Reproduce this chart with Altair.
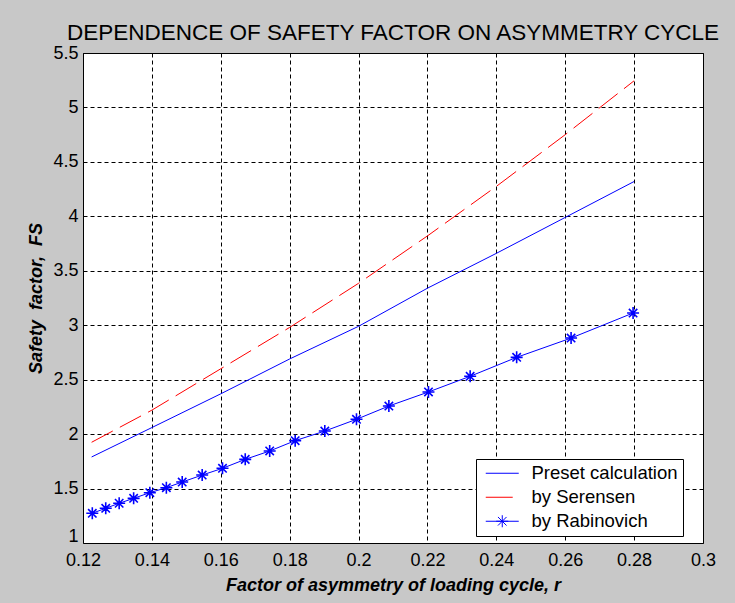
import altair as alt
import pandas as pd

# ---- data ----
series = ["Preset calculation", "by Serensen", "by Rabinovich"]

preset_r = [0.1225, 0.14, 0.16, 0.18, 0.20, 0.22, 0.24, 0.26, 0.28]
preset_fs = [1.79, 2.06, 2.37, 2.69, 2.99, 3.34, 3.66, 3.99, 4.32]

seren_r = [0.1225, 0.14, 0.16, 0.18, 0.20, 0.22, 0.24, 0.26, 0.28]
seren_fs = [1.925, 2.22, 2.60, 2.98, 3.385, 3.82, 4.275, 4.75, 5.245]

rab_r = [0.1227, 0.1266, 0.1305, 0.1347, 0.1394, 0.1442, 0.1488, 0.1546, 0.1605,
         0.1671, 0.1742, 0.1816, 0.1902, 0.1994, 0.2088, 0.2203, 0.2324, 0.2459,
         0.2617, 0.2797]
rab_fs = [1.273, 1.319, 1.365, 1.41, 1.462, 1.508, 1.56, 1.624, 1.686,
          1.768, 1.845, 1.94, 2.028, 2.136, 2.258, 2.387, 2.531, 2.705,
          2.882, 3.112]

x_ticks = [0.12, 0.14, 0.16, 0.18, 0.2, 0.22, 0.24, 0.26, 0.28, 0.3]
y_ticks = [1, 1.5, 2, 2.5, 3, 3.5, 4, 4.5, 5, 5.5]

title_text = "DEPENDENCE OF SAFETY FACTOR ON ASYMMETRY CYCLE"
x_title = "Factor of asymmetry of loading cycle, r"
y_title = "Safety\u00a0 factor,\u00a0 FS"

# ---- tables ----
preset_df = pd.DataFrame({"r": preset_r, "fs": preset_fs})
seren_df = pd.DataFrame({"r": seren_r, "fs": seren_fs})
rab_df = pd.DataFrame({"r": rab_r, "fs": rab_fs})
legend_df = pd.DataFrame({"series": series})

FONT = "Liberation Sans"
BLUE = "#0000ff"
RED = "#ff0000"

STAR = "M-1,0L1,0M0,-1L0,1M-0.7,-0.7L0.7,0.7M-0.7,0.7L0.7,-0.7"
LEG_LINE = "M-2,0L2,0"
LEG_SHORT = "M-2,0L1.27,0"
LEG_STAR = ("M-2,0L2,0M-0.73,0L0.73,0M0,-0.73L0,0.73"
            "M-0.52,-0.52L0.52,0.52M-0.52,0.52L0.52,-0.52")

color_scale = alt.Scale(domain=series, range=[BLUE, RED, BLUE])
shape_scale = alt.Scale(domain=series, range=[LEG_LINE, LEG_SHORT, LEG_STAR])

x_enc = alt.X("r:Q",
              scale=alt.Scale(domain=[0.12, 0.3], nice=False, zero=False),
              axis=alt.Axis(values=x_ticks, format="~g", title=x_title,
                            labelFlush=False, labelOverlap=False,
                            labelPadding=8, titlePadding=7))
y_enc = alt.Y("fs:Q",
              scale=alt.Scale(domain=[1, 5.5], nice=False, zero=False),
              axis=alt.Axis(values=y_ticks, format="~g", title=y_title,
                            labelFlush=False, labelOverlap=False,
                            labelOffset={"condition": {"test": "datum.value === 1",
                                                       "value": -7},
                                         "value": 0},
                            labelPadding=5, titlePadding=7))

leg = alt.Legend(title=None, orient="none", legendX=393, legendY=406,
                 fillColor="white", strokeColor="black", padding=5,
                 rowPadding=5, labelFont=FONT, labelFontSize=18.5,
                 labelColor="black", labelOffset=20, symbolOffset=12,
                 symbolSize=272, symbolStrokeWidth=1, symbolOpacity=1,
                 symbolFillColor="transparent", zindex=3)

preset_line = alt.Chart(preset_df).mark_line(
    strokeWidth=1, color=BLUE, clip=True
).encode(x=x_enc, y=y_enc)

seren_line = alt.Chart(seren_df).mark_line(
    strokeWidth=1, color=RED, strokeDash=[24, 8], clip=True
).encode(x="r:Q", y="fs:Q")

rab_line = alt.Chart(rab_df).mark_line(
    strokeWidth=1, color=BLUE, clip=True
).encode(x="r:Q", y="fs:Q")

markers = alt.Chart(rab_df).mark_point(
    shape=STAR, size=144, filled=False, color=BLUE, strokeWidth=1.6, opacity=1
).encode(x="r:Q", y="fs:Q")

legend_layer = alt.Chart(legend_df).mark_point(
    filled=False, strokeWidth=1, opacity=1
).encode(
    x="r:Q", y="fs:Q",
    color=alt.Color("series:N", scale=color_scale, legend=leg),
    shape=alt.Shape("series:N", scale=shape_scale, legend=leg),
)

chart = alt.layer(preset_line, seren_line, rab_line, markers, legend_layer).properties(
    width=620, height=490,
    padding={"left": 83, "top": 53, "right": 32, "bottom": 60},
    autosize=alt.AutoSizeParams(type="none"),
    background="#c8c8c8",
    title=alt.Title(title_text, font=FONT, fontSize=22.5, fontWeight="normal",
                    color="black", anchor="middle", offset=0),
).configure_view(
    stroke="black", strokeWidth=1, fill="white"
).configure_axis(
    labelFont=FONT, labelFontSize=18, labelColor="black",
    titleFont=FONT, titleFontSize=18, titleFontWeight="bold",
    titleFontStyle="italic", titleColor="black",
    grid=True, gridColor="black", gridOpacity=1, gridWidth=1, gridDash=[4, 3],
    ticks=False, domain=False,
)

chart.save("out.html", embed_options={"renderer": "svg", "actions": False})
